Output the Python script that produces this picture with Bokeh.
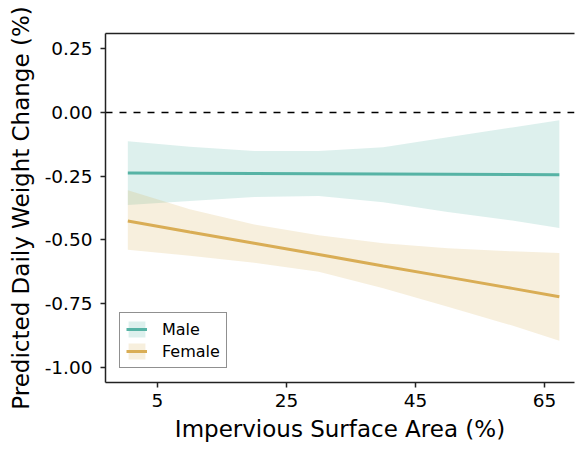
from bokeh.plotting import figure
from bokeh.models import (Range1d, LinearAxis, FixedTicker, Legend, LegendItem,
                          ColumnDataSource)
from bokeh.embed import file_html
from bokeh.resources import INLINE

# ---- data ----
x_vals = [0.4, 10, 20, 30, 40, 50, 60, 67.3]

male_fit = [-0.238, -0.239, -0.240, -0.241, -0.242, -0.243, -0.244, -0.245]
male_upper = [-0.113, -0.135, -0.152, -0.152, -0.137, -0.098, -0.059, -0.031]
male_lower = [-0.363, -0.348, -0.332, -0.328, -0.352, -0.391, -0.424, -0.453]

female_fit = [-0.426, -0.469, -0.513, -0.557, -0.602, -0.646, -0.690, -0.723]
female_upper = [-0.305, -0.380, -0.440, -0.482, -0.513, -0.533, -0.545, -0.551]
female_lower = [-0.539, -0.562, -0.590, -0.625, -0.690, -0.762, -0.836, -0.895]

zero_line = [0.0]

x_ticks = [5, 25, 45, 65]
y_ticks = [0.25, 0.0, -0.25, -0.5, -0.75, -1.0]
y_tick_labels = {0.25: "0.25", 0.0: "0.00", -0.25: "-0.25", -0.5: "-0.50",
                 -0.75: "-0.75", -1.0: "-1.00"}

male_color = "#56b3a5"
female_color = "#d9ad55"
FONT = "DejaVu Sans"

src = ColumnDataSource(dict(x=x_vals, mf=male_fit, mu=male_upper, ml=male_lower,
                            ff=female_fit, fu=female_upper, fl=female_lower))

p = figure(width=577, height=449, output_backend="svg", toolbar_location=None,
           x_range=Range1d(-3.06, 69.65), y_range=Range1d(-1.059, 0.309),
           min_border_left=105, min_border_right=3, min_border_top=33,
           min_border_bottom=67)
p.outline_line_color = None
p.xgrid.visible = False
p.ygrid.visible = False
p.background_fill_color = "white"
p.border_fill_color = "white"

bottom_axis = p.below[0]
left_axis = p.left[0]

p.hspan(y=zero_line, line_color="black", line_width=1.5, line_dash="7 7")

mb = p.varea(x="x", y1="ml", y2="mu", source=src, fill_color=male_color, fill_alpha=0.2)
fb = p.varea(x="x", y1="fl", y2="fu", source=src, fill_color=female_color, fill_alpha=0.2)
ml = p.line(x="x", y="mf", source=src, line_color=male_color, line_width=3)
fl = p.line(x="x", y="ff", source=src, line_color=female_color, line_width=3)

for ax in (bottom_axis, left_axis):
    ax.axis_line_width = 1.5
    ax.axis_line_color = "#222222"
    ax.major_tick_line_color = "#222222"
    ax.major_tick_line_width = 1.5
    ax.major_tick_in = 0
    ax.major_tick_out = 5
    ax.minor_tick_line_color = None
    ax.major_label_text_font = FONT
    ax.major_label_text_font_size = "18.5px"
    ax.major_label_text_font_style = "normal"
    ax.major_label_text_color = "black"
    ax.axis_label_text_font = FONT
    ax.axis_label_text_font_size = "23px"
    ax.axis_label_text_font_style = "normal"
    ax.axis_label_text_color = "black"

bottom_axis.ticker = FixedTicker(ticks=x_ticks)
left_axis.ticker = FixedTicker(ticks=y_ticks)
left_axis.major_label_overrides = y_tick_labels
bottom_axis.axis_label = "Impervious Surface Area (%)"
left_axis.axis_label = "Predicted Daily Weight Change (%)"
bottom_axis.major_label_standoff = 6
left_axis.major_label_standoff = 8
bottom_axis.axis_label_standoff = 6
left_axis.axis_label_standoff = 8

# top frame line via an empty axis
top_axis = LinearAxis(ticker=FixedTicker(ticks=[]), major_label_text_font_size="0px",
                      axis_line_width=1.5, axis_line_color="#222222",
                      major_tick_line_color=None, minor_tick_line_color=None)
p.add_layout(top_axis, "above")

legend = Legend(items=[LegendItem(label="Male", renderers=[mb, ml]),
                       LegendItem(label="Female", renderers=[fb, fl])],
                location=(14, 14), margin=0, padding=6, spacing=2,
                glyph_width=21, glyph_height=20, label_standoff=15,
                label_text_font=FONT, label_text_font_size="16px",
                label_text_color="black",
                border_line_color="#222222", border_line_width=1.5,
                background_fill_alpha=1.0)
p.add_layout(legend)

open("out.html", "w").write(file_html(p, INLINE))
